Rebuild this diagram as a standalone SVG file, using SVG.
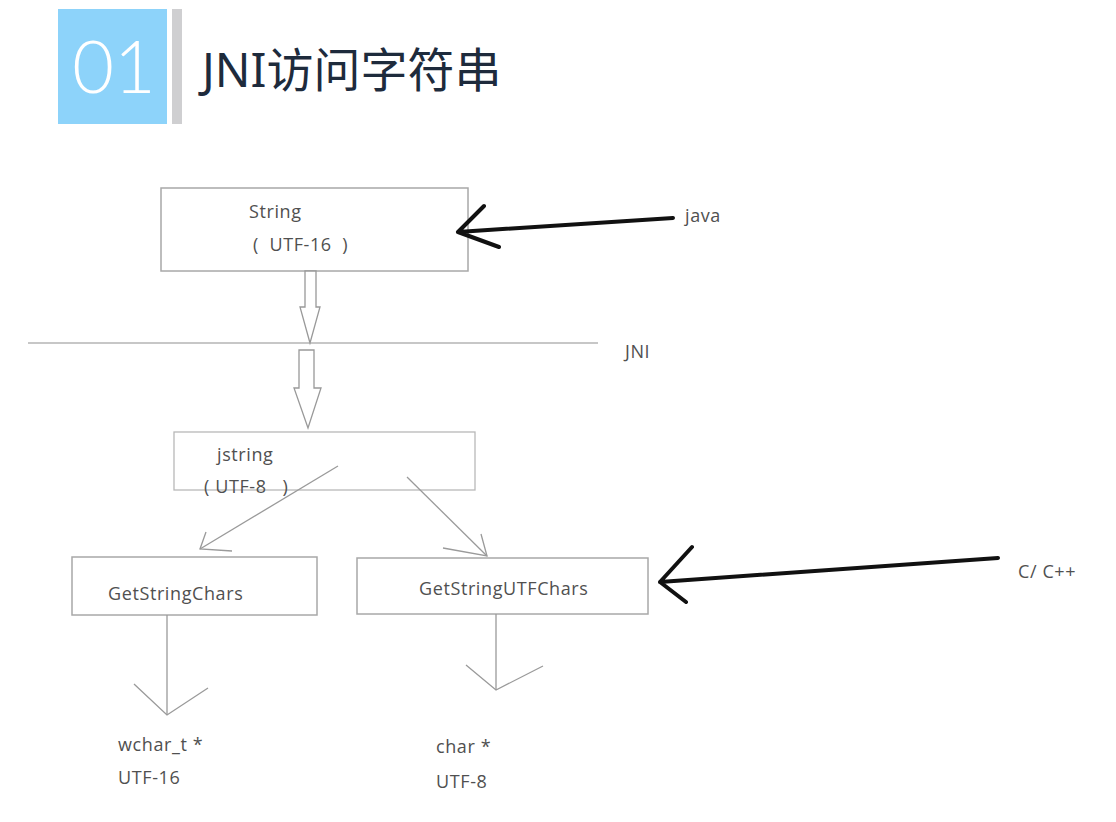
<svg xmlns="http://www.w3.org/2000/svg" width="1116" height="822" viewBox="0 0 1116 822">
<style>
.box{fill:#fff;stroke:#a8a8a8;stroke-width:1.5}
.lbl{font-family:"Open Sans","Noto Sans",sans-serif;font-size:18px;letter-spacing:0.6px;fill:#505050}
.thin{fill:none;stroke:#9a9a9a;stroke-width:1.3}
.hollow{fill:#fff;stroke:#999;stroke-width:1.3}
.ink{fill:none;stroke:#111;stroke-width:4;stroke-linecap:round;stroke-linejoin:round}
</style>
<rect width="1116" height="822" fill="#fff"/>
<g id="title">
<rect x="58" y="9" width="109" height="115" fill="#8dd3fa"/>
<rect x="172" y="9" width="10" height="115" fill="#cfcfd1"/>
<text x="114" y="93" text-anchor="middle" font-family="Lato,'Open Sans',sans-serif" font-weight="300" font-size="72" fill="#fff">01</text>
<text x="202" y="87" font-family="'Noto Sans','Noto Sans CJK SC',sans-serif" font-size="47" fill="#1e2b3c">JNI访问字符串</text>
</g>
<g id="string">
<rect class="box" x="161" y="188" width="307" height="83"/>
<text class="lbl" x="249" y="218">String</text>
<text class="lbl" x="253" y="251" xml:space="preserve">(  UTF-16  )</text>
</g>
<g id="jni-line">
<line x1="28" y1="343" x2="598" y2="343" stroke="#b5b5b5" stroke-width="1.5"/>
<text class="lbl" x="625" y="358" font-size="17">JNI</text>
</g>
<g id="jstring">
<rect x="174" y="432" width="301" height="58" fill="#fff" stroke="#b8b8b8" stroke-width="1.3"/>
<text class="lbl" x="217" y="461">jstring</text>
<text class="lbl" x="204" y="493" xml:space="preserve">( UTF-8   )</text>
</g>
<g id="getstringchars">
<rect class="box" x="72" y="557" width="245" height="58"/>
<text class="lbl" x="108" y="600">GetStringChars</text>
</g>
<g id="getstringutfchars">
<rect class="box" x="357" y="558" width="291" height="56"/>
<text class="lbl" x="419" y="595">GetStringUTFChars</text>
</g>
<g id="wchar">
<text class="lbl" x="118" y="751">wchar_t *</text>
<text class="lbl" x="118" y="784">UTF-16</text>
</g>
<g id="char">
<text class="lbl" x="436" y="753">char *</text>
<text class="lbl" x="436" y="788">UTF-8</text>
</g>
<g id="java-label">
<text class="lbl" x="685" y="222" font-size="17">java</text>
</g>
<g id="c-label">
<text class="lbl" x="1018" y="578" font-size="17" letter-spacing="2">C/ C++</text>
</g>
<g id="connectors">
<path class="hollow" d="M305 271 L316 271 L316 307 L320 307 L310 343 L300 307 L305 307 Z"/>
<path class="hollow" d="M299 350 L314 350 L314 388 L321 388 L308 428 L294 388 L299 388 Z"/>
<line class="thin" x1="338" y1="466" x2="200" y2="549"/>
<polyline class="thin" points="206,532 200,549 232,551"/>
<line class="thin" x1="407" y1="477" x2="487" y2="556"/>
<polyline class="thin" points="481,534 487,556 443,548"/>
<line class="thin" x1="167" y1="615" x2="167" y2="715"/>
<polyline class="thin" points="134,684 167,715 208,688"/>
<line class="thin" x1="496" y1="614" x2="496" y2="690"/>
<polyline class="thin" points="466,665 496,690 543,666"/>
<path class="ink" d="M673 218 L458 232 M484 206 L458 232 L499 247"/>
<path class="ink" d="M998 558 L660 582 M692 547 L660 582 L686 602"/>
</g>
</svg>
